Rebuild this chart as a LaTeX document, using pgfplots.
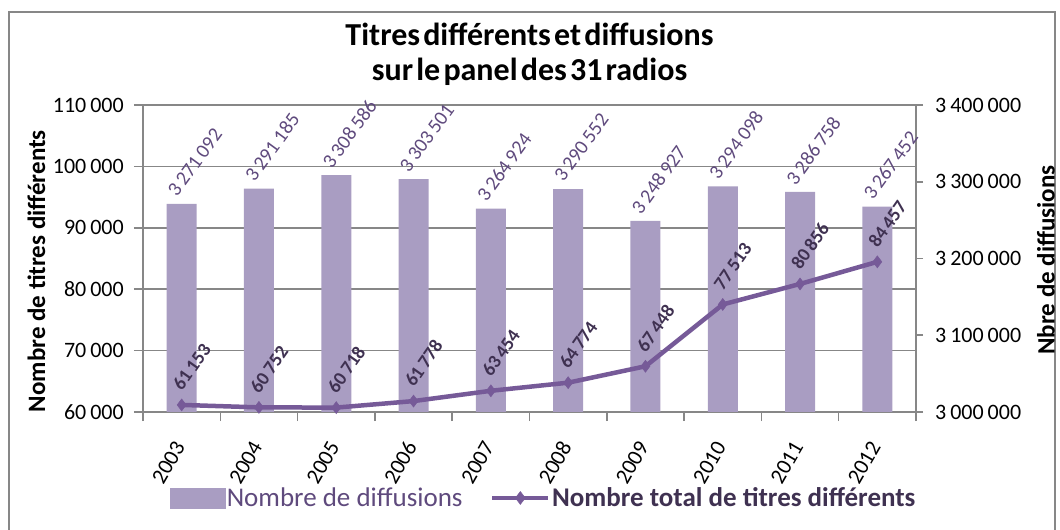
\documentclass[border=0pt]{standalone}
\usepackage{fontspec}
\setmainfont{Carlito}
\usepackage{pgfplots}
\usepackage{pgfplotstable}
\pgfplotsset{compat=1.18}
\definecolor{barcol}{HTML}{A99DC2}
\definecolor{linecol}{HTML}{765A98}
\definecolor{barlab}{HTML}{5F4A7D}
\definecolor{linelab}{HTML}{3F3151}
\definecolor{axgray}{HTML}{878787}
\newcommand\ts{\hspace{0.18em}}
\newcommand\tw{\hspace{0.1em}}

\pgfplotstableread[col sep=comma]{
x,y,lab
0,3271092,3\ts 271\ts 092
1,3291185,3\ts 291\ts 185
2,3308586,3\ts 308\ts 586
3,3303501,3\ts 303\ts 501
4,3264924,3\ts 264\ts 924
5,3290552,3\ts 290\ts 552
6,3248927,3\ts 248\ts 927
7,3294098,3\ts 294\ts 098
8,3286758,3\ts 286\ts 758
9,3267452,3\ts 267\ts 452
}\bars

\pgfplotstableread[col sep=comma]{
x,y,lab
0,61153,61\ts 153
1,60752,60\ts 752
2,60718,60\ts 718
3,61778,61\ts 778
4,63454,63\ts 454
5,64774,64\ts 774
6,67448,67\ts 448
7,77513,77\ts 513
8,80856,80\ts 856
9,84457,84\ts 457
}\lines

\pgfplotsset{
  barlegend/.style={legend image code/.code={\fill[barcol] (0pt,-10pt) rectangle (55pt,10pt);}},
  linelegend/.style={legend image code/.code={%
     \draw[linecol, line width=4.5pt] (0pt,0pt) -- (56pt,0pt);
     \fill[linecol] (28pt,-6.5pt) -- (33pt,0pt) -- (28pt,6.5pt) -- (23pt,0pt) -- cycle;}},
  common/.style={scale only axis, width=773pt, height=307pt, xmin=-0.5, xmax=9.5, scaled y ticks=false},
}

\begin{document}
\begin{tikzpicture}
\path[use as bounding box] (-143pt,-118pt) rectangle (917pt,412pt);
\draw[axgray, line width=1.5pt] (-134pt,-130pt) -- (-134pt,400pt) -- (912pt,400pt) -- (912pt,-130pt);

% left axis with grid
\begin{axis}[common,
  ymin=60000, ymax=110000,
  axis x line*=bottom, axis y line*=left,
  axis line style={axgray, line width=1.5pt},
  xtick={-0.5,0.5,...,9.5},
  x tick label as interval,
  xticklabels={2003,2004,2005,2006,2007,2008,2009,2010,2011,2012},
  ytick={60000,70000,80000,90000,100000,110000},
  yticklabels={60\ts 000,70\ts 000,80\ts 000,90\ts 000,100\ts 000,110\ts 000},
  ymajorgrids, grid style={axgray, line width=1.5pt},
  tick style={axgray, line width=1.5pt},
  tick align=outside, major tick length=9pt,
  tick label style={font=\fontsize{22}{26}\selectfont, text=black},
  xticklabel style={font=\fontsize{22}{26}\selectfont, inner sep=0pt, xshift=-2pt, yshift=-22pt, rotate=60, anchor=east},
  yticklabel style={inner sep=0pt, anchor=east, xshift=-10pt},
  ylabel={Nombre de titres différents},
  every axis y label/.style={at={(axis description cs:-0.138,0.459)}, rotate=90, anchor=center, font=\fontsize{25}{29}\selectfont\bfseries},
  title={Titres\tw différents\tw et\tw diffusions\\sur\tw le\tw panel\tw des\tw 31\tw radios},
  title style={at={(axis description cs:0.5,1)}, anchor=south, yshift=13.5pt, align=center, inner sep=0pt, font=\bfseries\fontsize{32}{35}\selectfont},
]
\end{axis}

% right axis with bars
\begin{axis}[common,
  ymin=3000000, ymax=3400000,
  axis x line=none, axis y line*=right,
  axis line style={axgray, line width=1.5pt},
  ytick={3000000,3100000,3200000,3300000,3400000},
  yticklabels={3\ts 000\ts 000,3\ts 100\ts 000,3\ts 200\ts 000,3\ts 300\ts 000,3\ts 400\ts 000},
  tick style={axgray, line width=1.5pt},
  tick align=outside, major tick length=7pt,
  tick label style={font=\fontsize{22}{26}\selectfont, text=black},
  yticklabel style={inner sep=0pt, anchor=west, xshift=12pt},
  ylabel={Nbre de diffusions},
  every axis y label/.style={at={(axis description cs:1.168,0.495)}, rotate=90, anchor=center, font=\fontsize{25}{29}\selectfont\bfseries},
  ybar, bar width=30pt,
]
\addplot[fill=barcol, draw=none,
  nodes near coords, point meta=explicit symbolic,
  every node near coord/.append style={font=\fontsize{20}{23}\selectfont, text=barlab, inner sep=2pt, xshift=-11pt, yshift=8pt, rotate=54, anchor=west}]
  table[x=x, y=y, meta=lab]{\bars};
\end{axis}

% line axis
\begin{axis}[common,
  ymin=60000, ymax=110000,
  hide axis,
  legend columns=2,
  legend style={at={(axis description cs:0.518,-0.280)}, anchor=center, draw=none, fill=none,
    font=\fontsize{27}{31}\selectfont, legend cell align=left,
    nodes={inner sep=1.5pt},
    /tikz/every even column/.append style={column sep=26pt}},
]
\addlegendimage{barlegend}
\addlegendentry{\textcolor{barlab}{Nombre de diffusions}}
\addlegendimage{linelegend}
\addlegendentry{\textcolor{linelab}{\bfseries Nombre total de titres différents}}
\addplot[forget plot, linecol, line width=4.5pt, mark=diamond*, mark size=6pt,
  mark options={solid, line width=0.5pt, fill=linecol},
  nodes near coords, point meta=explicit symbolic,
  every node near coord/.append style={font=\fontsize{19}{22}\selectfont\bfseries, text=linelab, inner sep=2pt, xshift=-6pt, yshift=15pt, rotate=55, anchor=west}]
  table[x=x, y=y, meta=lab]{\lines};
\end{axis}
\end{tikzpicture}
\end{document}
